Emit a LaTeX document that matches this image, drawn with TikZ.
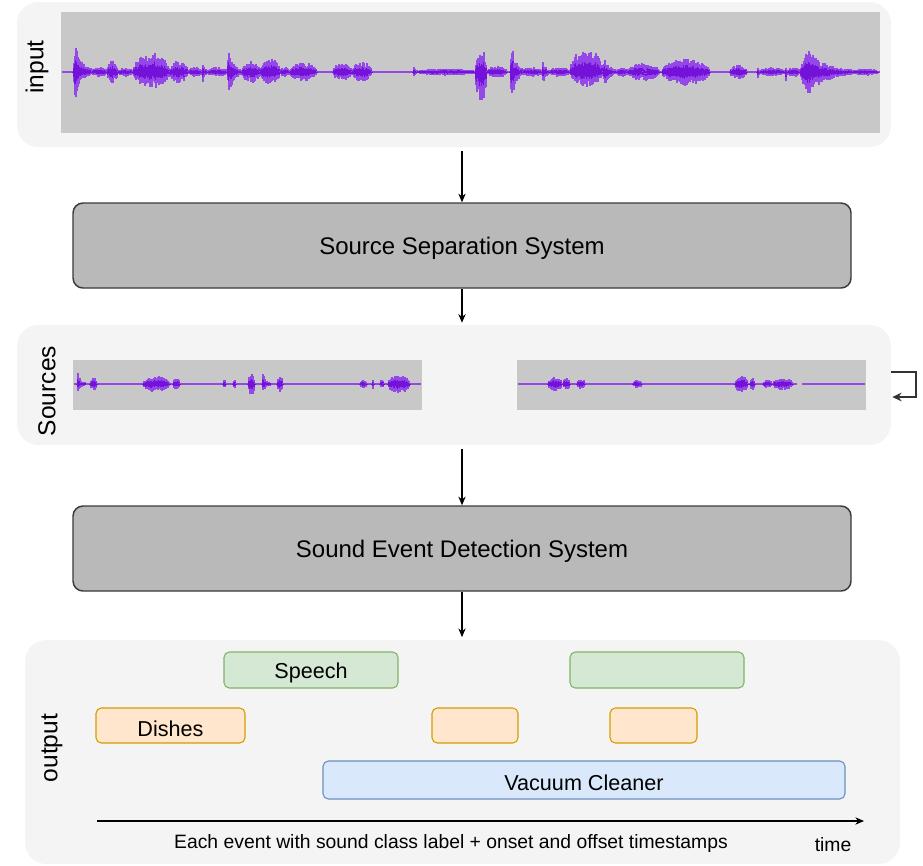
\documentclass[tikz,border=0pt]{standalone}
\usepackage{fontspec}
\setmainfont{Liberation Sans}
\usetikzlibrary{arrows.meta,fit}
\definecolor{panelbg}{HTML}{F4F4F4}
\definecolor{wavebg}{HTML}{C8C8C8}
\definecolor{sysfill}{HTML}{B9B9B9}
\definecolor{sysdraw}{HTML}{3A3A3A}
\definecolor{waveout}{HTML}{9448E8}
\definecolor{wavein}{HTML}{7412DA}
\definecolor{gfill}{HTML}{D5E8D4}\definecolor{gdraw}{HTML}{82B366}
\definecolor{ofill}{HTML}{FFE6CC}\definecolor{odraw}{HTML}{D79B00}
\definecolor{bfill}{HTML}{DAE8FC}\definecolor{bdraw}{HTML}{6C8EBF}
\pgfmathsetseed{7}
% burst: cy, x1, x2, amp up, amp down, type (1 spike, 0 blob)
\newcommand{\wburst}[6]{%
 \foreach \xx in {#2,...,#3}{%
  \pgfmathsetmacro{\bt}{(\xx-#2)/max(#3-#2,1)}%
  \pgfmathsetmacro{\benv}{#6*((\bt<0.12)*(\bt/0.12)+(\bt>=0.12)*exp(-3*(\bt-0.12))) + (1-#6)*sqrt(max(sin(180*\bt),0))}%
  \pgfmathsetmacro{\bu}{\wscale*#4*\benv*(0.45+0.55*rnd)+1}%
  \pgfmathsetmacro{\bd}{\wscale*#5*\benv*(0.45+0.55*rnd)+1}%
  \draw[wout] (\xx,#1-\bu) -- (\xx,#1+\bd);
  \draw[win] (\xx,#1-0.5*\bu) -- (\xx,#1+0.5*\bd);
 }}
\tikzset{
  panel/.style={fill=panelbg, draw=none, rounded corners=16pt, inner sep=0pt},
  wavebox/.style={fill=wavebg, draw=none, inner sep=0pt},
  sysbox/.style={fill=sysfill, draw=sysdraw, line width=1.1pt, rounded corners=7.5pt, inner sep=0pt},
  evg/.style={fill=gfill, draw=gdraw, line width=0.8pt, rounded corners=4pt, inner sep=0pt},
  evo/.style={fill=ofill, draw=odraw, line width=0.8pt, rounded corners=4pt, inner sep=0pt},
  evb/.style={fill=bfill, draw=bdraw, line width=0.8pt, rounded corners=4pt, inner sep=0pt},
  wout/.style={draw=waveout, line width=0.95pt, line cap=butt},
  win/.style={draw=wavein, line width=0.95pt, line cap=butt},
  cline/.style={draw=waveout, line width=#1},
  arr/.style={draw=black, line width=0.8pt, -{Stealth[length=6.5pt,width=5.5pt]}},
  loopline/.style={draw=black!80, line width=1.4pt, -{Stealth[length=7pt,width=6.5pt]}},
  side/.style={rotate=90, font=\fontsize{18.4}{22}\selectfont, inner sep=0pt},
  systxt/.style={font=\fontsize{18}{22}\selectfont, yshift=-2.2pt},
  evtxt/.style={font=\fontsize{16.2}{20}\selectfont, yshift=-2.4pt},
  captxt/.style={font=\fontsize{14.5}{18}\selectfont, inner sep=0pt, yshift=-1.5pt},
}
\begin{document}
\begin{tikzpicture}[x=0.75pt, y=-0.75pt]
\useasboundingbox (0,0) rectangle (923,865);
% ---------- input panel ----------
\node[panel, fit={(17,2) (891,147)}] (inpanel) {};
\node[wavebox, fit={(61,12) (880,133)}] (inwave) {};
\node[side] (inlbl) at (37,67) {input};
\draw[cline=2.2pt] (62,72) -- (880,72);
\def\wscale{1.3}
\wburst{72}{73}{92}{25}{21}{1}
\wburst{72}{92}{107}{3}{3}{0}
\wburst{72}{107}{118}{9}{8}{0}
\wburst{72}{118}{133}{3}{3}{0}
\wburst{72}{133}{170}{15}{12}{0}
\wburst{72}{170}{188}{8}{8}{0}
\wburst{72}{188}{202}{3}{3}{0}
\wburst{72}{202}{208}{9}{9}{1}
\wburst{72}{208}{227}{3}{3}{0}
\wburst{72}{227}{242}{17}{18}{1}
\wburst{72}{242}{260}{8}{8}{0}
\wburst{72}{260}{280}{12}{11}{0}
\wburst{72}{280}{290}{3}{3}{0}
\wburst{72}{290}{317}{7}{7}{0}
\wburst{72}{333}{352}{7}{7}{0}
\wburst{72}{352}{372}{7}{7}{0}
\wburst{72}{413}{417}{7}{7}{1}
\wburst{72}{417}{475}{2}{2}{0}
\wburst{72}{475}{487}{17}{23}{0}
\wburst{72}{487}{507}{4}{4}{0}
\wburst{72}{510}{523}{23}{25}{1}
\wburst{72}{523}{542}{3}{3}{0}
\wburst{72}{542}{550}{10}{10}{1}
\wburst{72}{550}{570}{3}{3}{0}
\wburst{72}{570}{603}{18}{11}{0}
\wburst{72}{603}{617}{12}{12}{1}
\wburst{72}{617}{627}{3}{3}{0}
\wburst{72}{627}{660}{6}{6}{0}
\wburst{72}{643}{646}{12}{8}{1}
\wburst{72}{662}{710}{10}{10}{0}
\wburst{72}{730}{747}{5}{5}{0}
\wburst{72}{757}{760}{8}{12}{1}
\wburst{72}{760}{785}{3}{3}{0}
\wburst{72}{785}{788}{6}{14}{1}
\wburst{72}{788}{800}{3}{3}{0}
\wburst{72}{800}{853}{18}{20}{1}
\wburst{72}{853}{878}{2}{2}{0}
% ---------- separation system ----------
\node[sysbox, fit={(73,203) (851,288)}] (sep) {};
\node[systxt] (septxt) at (sep.center) {Source Separation System};
% ---------- sources panel ----------
\node[panel, fit={(17,325) (891,445)}] (srcpanel) {};
\node[wavebox, fit={(73,360) (422,410)}] (src1) {};
\node[wavebox, fit={(517,360) (866,410)}] (src2) {};
\node[side] (srclbl) at (47,391) {Sources};
\draw[cline=1.6pt] (74,384) -- (421,384);
\draw[cline=1.6pt] (518,384) -- (797,384);
\draw[cline=1.6pt] (802,384) -- (865,384);
\def\wscale{1.1}
\wburst{384}{77}{85}{9}{9}{1}
\wburst{384}{90}{97}{5}{5}{0}
\wburst{384}{143}{170}{7}{7}{0}
\wburst{384}{173}{180}{5}{5}{0}
\wburst{384}{223}{226}{3}{3}{0}
\wburst{384}{233}{236}{3}{3}{0}
\wburst{384}{248}{255}{10}{10}{0}
\wburst{384}{262}{270}{12}{10}{1}
\wburst{384}{277}{283}{6}{6}{0}
\wburst{384}{360}{367}{3}{3}{0}
\wburst{384}{372}{374}{5}{5}{0}
\wburst{384}{380}{384}{3}{3}{0}
\wburst{384}{388}{410}{8}{8}{0}
\wburst{384}{548}{562}{6}{6}{0}
\wburst{384}{563}{570}{5}{5}{0}
\wburst{384}{577}{585}{4}{4}{0}
\wburst{384}{633}{642}{3}{3}{0}
\wburst{384}{735}{748}{7}{7}{0}
\wburst{384}{750}{755}{5}{5}{0}
\wburst{384}{763}{772}{3}{3}{0}
\wburst{384}{773}{793}{5}{5}{0}
% ---------- detection system ----------
\node[sysbox, fit={(73,506) (851,591)}] (sed) {};
\node[systxt] (sedtxt) at (sed.center) {Sound Event Detection System};
% ---------- output panel ----------
\node[panel, fit={(25,640) (900,864)}] (outpanel) {};
\node[side] (outlbl) at (52,748) {output};
\node[evg, fit={(224,652) (398,688)}] (sp1) {};
\node[evtxt] (sp1t) at (sp1.center) {Speech};
\node[evg, fit={(570,652) (744,688)}] (sp2) {};
\node[evo, fit={(96,708) (245,743)}] (di1) {};
\node[evtxt] (di1t) at (di1.center) {Dishes};
\node[evo, fit={(432,708) (518,743)}] (di2) {};
\node[evo, fit={(610,708) (697,743)}] (di3) {};
\node[evb, fit={(323,761) (845,799)}] (vac) {};
\node[evtxt] (vact) at (vac.center) {Vacuum Cleaner};
\coordinate (ax0) at (97,821);
\coordinate (ax1) at (864,821);
\draw[arr] (ax0) -- (ax1);
\node[captxt] (cap) at (451,841) {Each event with sound class label + onset and offset timestamps};
\node[captxt] (timelbl) at (833,843) {time};
% ---------- connectors ----------
\draw[arr, shorten <=3pt] (sep.north |- inpanel.south) -- (sep.north);
\draw[arr, shorten >=1.5pt] (sep.south) -- (sep.south |- srcpanel.north);
\draw[arr, shorten <=3pt] (sed.north |- srcpanel.south) -- (sed.north);
\draw[arr, shorten >=2pt] (sed.south) -- (sed.south |- outpanel.north);
\draw[loopline] ([shift={(0,-13)}]srcpanel.east) -- ++(25,0) -- ++(0,25) -- ([shift={(1,12)}]srcpanel.east);
\end{tikzpicture}
\end{document}
